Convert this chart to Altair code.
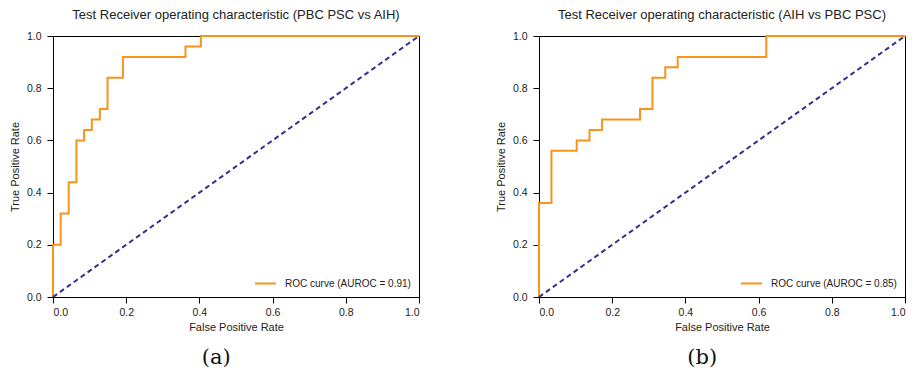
import altair as alt
import pandas as pd

# Panel (a): PBC PSC vs AIH
fpr_a = [0.0, 0.0, 0.021, 0.043, 0.064, 0.085, 0.106, 0.128, 0.149, 0.191, 0.362, 0.404, 1.0]
tpr_a = [0.0, 0.20, 0.32, 0.44, 0.60, 0.64, 0.68, 0.72, 0.84, 0.92, 0.96, 1.0, 1.0]
label_a = "ROC curve (AUROC = 0.91)"
title_a = "Test Receiver operating characteristic (PBC PSC vs AIH)"

# Panel (b): AIH vs PBC PSC
fpr_b = [0.0, 0.0, 0.034, 0.103, 0.138, 0.172, 0.276, 0.310, 0.345, 0.379, 0.621, 1.0]
tpr_b = [0.0, 0.36, 0.56, 0.60, 0.64, 0.68, 0.72, 0.84, 0.88, 0.92, 1.0, 1.0]
label_b = "ROC curve (AUROC = 0.85)"
title_b = "Test Receiver operating characteristic (AIH vs PBC PSC)"

diag_x = [0.0, 1.0]
diag_y = [0.0, 1.0]
ticks = [0.0, 0.2, 0.4, 0.6, 0.8, 1.0]

ORANGE = "#f7941d"
NAVY = "#3b2c8c"
FONT = "Liberation Sans"


def panel(fpr, tpr, label, title, caption):
    df = pd.DataFrame({"fpr": fpr, "tpr": tpr, "order": list(range(len(fpr))), "series": label})
    dd = pd.DataFrame({"x": diag_x, "y": diag_y})
    xs = alt.Scale(domain=[0, 1], nice=False, zero=False)
    ys = alt.Scale(domain=[0, 1], nice=False, zero=False)
    xax = alt.Axis(values=ticks, format=".1f", title="False Positive Rate", grid=False,
                   labelPadding=4, titlePadding=4)
    yax = alt.Axis(values=ticks, format=".1f", title="True Positive Rate", grid=False,
                   labelPadding=6, titlePadding=6)
    roc = alt.Chart(df).mark_line(strokeWidth=2, interpolate="step-after").encode(
        x=alt.X("fpr:Q", scale=xs, axis=xax),
        y=alt.Y("tpr:Q", scale=ys, axis=yax),
        order="order:Q",
        color=alt.Color(
            "series:N",
            scale=alt.Scale(range=[ORANGE]),
            legend=alt.Legend(
                title=None, orient="bottom-right", symbolType="stroke",
                symbolStrokeWidth=2, symbolSize=441, labelFontSize=10,
                labelFont=FONT, labelColor="#222", offset=8, labelOffset=8,
            ),
        ),
    )
    diag = alt.Chart(dd).mark_line(strokeWidth=2, strokeDash=[5, 3.5], color=NAVY).encode(
        x=alt.X("x:Q", scale=xs, axis=xax),
        y=alt.Y("y:Q", scale=ys, axis=yax),
    )
    lay = alt.layer(roc, diag).properties(
        width=366, height=261,
        title=alt.TitleParams(title, fontSize=13, font=FONT, fontWeight="normal", color="#222", offset=9),
    )
    return alt.vconcat(lay, title=alt.TitleParams(
        caption, orient="bottom", fontSize=21, font="DejaVu Serif", fontWeight="normal",
        color="#111", offset=14, anchor="middle")).resolve_scale(color="independent")


chart = alt.hconcat(
    panel(fpr_a, tpr_a, label_a, title_a, "(a)"),
    panel(fpr_b, tpr_b, label_b, title_b, "(b)"),
    spacing=70,
).resolve_scale(color="independent").properties(
    padding=0
).configure_view(
    stroke="black", strokeWidth=1
).configure_axis(
    domainColor="black", tickColor="black", tickSize=6, labelFontSize=10.5,
    titleFontSize=11, labelFont=FONT, titleFont=FONT, labelColor="#222",
    titleColor="#222", titleFontWeight="normal",
)

chart.save("out.html", embed_options={"renderer": "svg", "actions": False})
